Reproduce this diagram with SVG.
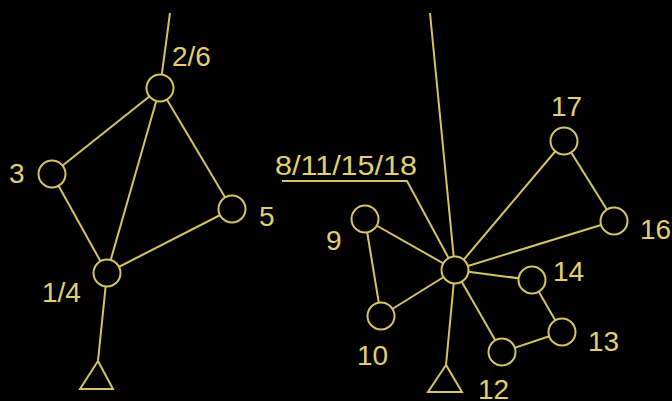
<svg xmlns="http://www.w3.org/2000/svg" width="672" height="401" viewBox="0 0 672 401">
<style>
.e{stroke:#d4c466;stroke-width:2;fill:none}
.n{stroke:#d4c466;stroke-width:2;fill:#000}
.t{font-family:"Liberation Sans",Arial,sans-serif;font-size:28px;fill:#e2d070}
</style>
<rect width="672" height="401" fill="#000"/>
<g id="connectors" class="e">
<line x1="160" y1="88" x2="170" y2="13"/>
<line x1="160" y1="88" x2="52" y2="174"/>
<line x1="160" y1="88" x2="107" y2="273"/>
<line x1="160" y1="88" x2="232" y2="209"/>
<line x1="52" y1="174" x2="107" y2="273"/>
<line x1="107" y1="273" x2="232" y2="209"/>
<line x1="107" y1="273" x2="98" y2="361"/>
<line x1="430" y1="13" x2="455" y2="270"/>
<polyline points="282,181 407,181 455,270"/>
<line x1="455" y1="270" x2="365" y2="219"/>
<line x1="455" y1="270" x2="381" y2="316"/>
<line x1="455" y1="270" x2="564" y2="141"/>
<line x1="455" y1="270" x2="614" y2="221"/>
<line x1="455" y1="270" x2="532" y2="280"/>
<line x1="455" y1="270" x2="502" y2="352"/>
<line x1="455" y1="270" x2="446" y2="365"/>
<line x1="365" y1="219" x2="381" y2="316"/>
<line x1="564" y1="141" x2="614" y2="221"/>
<line x1="532" y1="280" x2="562" y2="332"/>
<line x1="562" y1="332" x2="502" y2="352"/>
</g>
<g id="n2_6"><circle class="n" cx="160" cy="88" r="13.5"/><text class="t" x="172" y="66">2/6</text></g>
<g id="n3"><circle class="n" cx="52" cy="174" r="13.5"/><text class="t" x="9" y="183">3</text></g>
<g id="n1_4"><circle class="n" cx="107" cy="273" r="13.5"/><text class="t" x="42" y="302">1/4</text></g>
<g id="n5"><circle class="n" cx="232" cy="209" r="13.5"/><text class="t" x="259" y="226">5</text></g>
<g id="g_left"><polygon class="n" points="98,361 80,389 113,389"/></g>
<g id="n8_11_15_18"><circle class="n" cx="455" cy="270" r="13.5"/><text class="t" x="275" y="175" textLength="142" lengthAdjust="spacingAndGlyphs">8/11/15/18</text></g>
<g id="n9"><circle class="n" cx="365" cy="219" r="13.5"/><text class="t" x="326" y="250">9</text></g>
<g id="n10"><circle class="n" cx="381" cy="316" r="13.5"/><text class="t" x="357" y="365">10</text></g>
<g id="n17"><circle class="n" cx="564" cy="141" r="13.5"/><text class="t" x="551" y="116">17</text></g>
<g id="n16"><circle class="n" cx="614" cy="221" r="13.5"/><text class="t" x="640" y="239">16</text></g>
<g id="n14"><circle class="n" cx="532" cy="280" r="13.5"/><text class="t" x="553" y="281">14</text></g>
<g id="n13"><circle class="n" cx="562" cy="332" r="13.5"/><text class="t" x="588" y="351">13</text></g>
<g id="n12"><circle class="n" cx="502" cy="352" r="13.5"/><text class="t" x="478" y="399">12</text></g>
<g id="g_right"><polygon class="n" points="446,365 428,392 462,392"/></g>
</svg>
